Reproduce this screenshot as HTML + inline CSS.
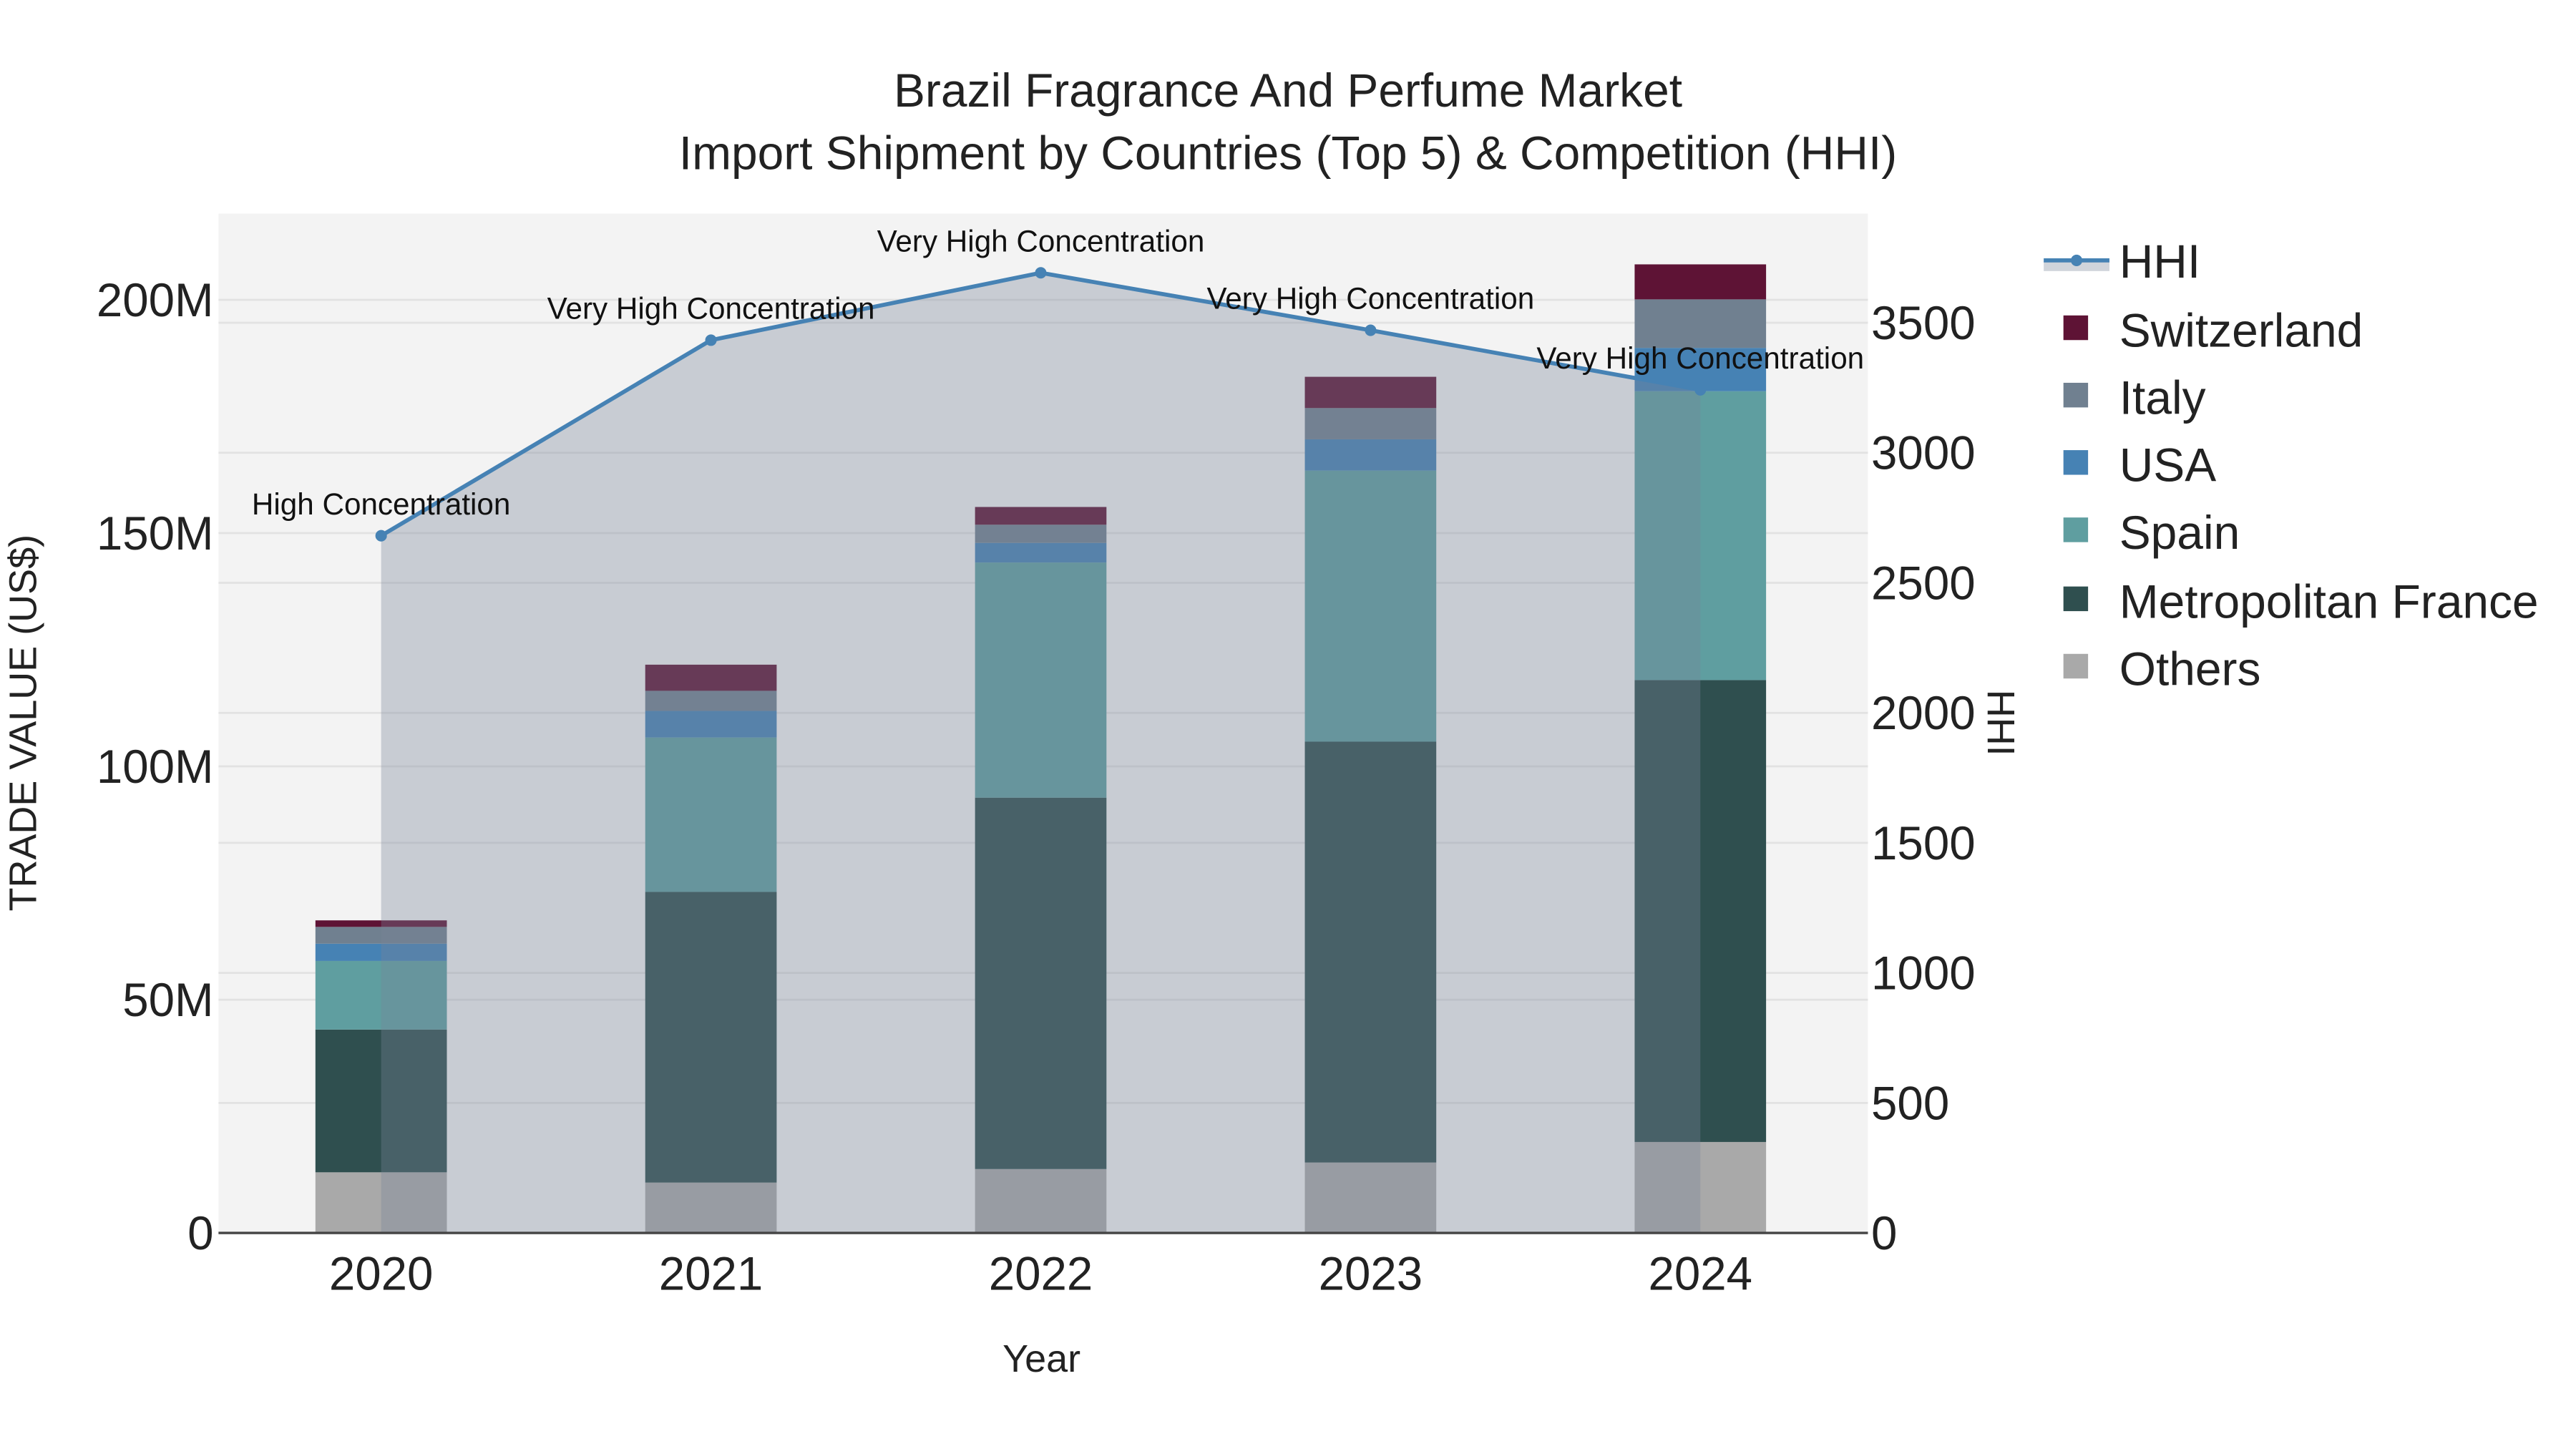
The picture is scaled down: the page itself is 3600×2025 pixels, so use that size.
<!DOCTYPE html>
<html><head><meta charset="utf-8"><style>
html,body{margin:0;padding:0;background:#fff;}
svg{display:block;font-family:"Liberation Sans",Arial,sans-serif;}
</style></head><body>
<svg id="chart" width="3600" height="2025" viewBox="0 0 1568 882" xmlns="http://www.w3.org/2000/svg">
<rect x="0" y="0" width="1568" height="882" fill="#ffffff"/>
<rect x="133" y="130" width="1004" height="621" fill="#f3f3f3"/>
<g id="grid"></g><g id="bars"></g><g id="hhi"></g><g id="axes"></g>
<text x="784" y="65" text-anchor="middle" font-size="28.7" fill="#222">Brazil Fragrance And Perfume Market</text>
<text x="784" y="103" text-anchor="middle" font-size="28.7" fill="#222">Import Shipment by Countries (Top 5) &amp; Competition (HHI)</text>
<text x="634" y="835" text-anchor="middle" font-size="23.5" fill="#222">Year</text>
<text transform="translate(22,440) rotate(-90)" text-anchor="middle" font-size="23.5" fill="#222">TRADE VALUE (US$)</text>
<text transform="translate(1210,440) rotate(90)" text-anchor="middle" font-size="23.5" fill="#222">HHI</text>
<g id="legend"></g>
</svg>
<script>
const years=["2020","2021","2022","2023","2024"];
const seriesNames=["Others","Metropolitan France","Spain","USA","Italy","Switzerland"];
const others=[13.0,10.8,13.7,15.1,19.5];
const france=[30.6,62.3,79.6,90.2,99.0];
const spain=[14.7,33.1,50.4,58.1,61.9];
const usa=[3.7,5.7,4.2,6.7,9.3];
const italy=[3.6,4.3,3.9,6.7,10.4];
const switzerland=[1.4,5.6,3.8,6.7,7.5];
const hhi=[2681,3433,3692,3471,3242];
const hhiLabels=["High Concentration","Very High Concentration","Very High Concentration","Very High Concentration","Very High Concentration"];
const yTicks=[0,50,100,150,200];
const yTickLabels=["0","50M","100M","150M","200M"];
const y2Ticks=[0,500,1000,1500,2000,2500,3000,3500];
const colors=["#a9a9a9","#2f4f4f","#5f9ea0","#4682b4","#708090","#5e1335"];
const NS="http://www.w3.org/2000/svg";
const X0=232,DX=200.75,BASE=750.5,PXM=2.84,PXH=0.1583,BW=80;
const xS=i=>X0+i*DX, yS=v=>BASE-v*PXM, y2S=v=>BASE-v*PXH;
function mk(tag,attrs,parent,txt){const e=document.createElementNS(NS,tag);for(const k in attrs)e.setAttribute(k,attrs[k]);if(txt!==undefined)e.textContent=txt;parent.appendChild(e);return e;}
const grid=document.getElementById('grid'),bars=document.getElementById('bars'),hg=document.getElementById('hhi'),ax=document.getElementById('axes'),lg=document.getElementById('legend');
yTicks.forEach((t,i)=>{
 if(t>0){const l=mk('line',{x1:133,x2:1137,y1:yS(t),y2:yS(t),stroke:"#e2e2e2","stroke-width":1.2},grid);
 }
 const tx=mk('text',{x:130,y:yS(t)+10,"text-anchor":"end","font-size":28.5,fill:"#222"},ax,yTickLabels[i]);
 
});
y2Ticks.forEach(t=>{
 if(t>0){const l=mk('line',{x1:133,x2:1137,y1:y2S(t),y2:y2S(t),stroke:"#e2e2e2","stroke-width":1.2},grid);
 }
 const tx=mk('text',{x:1139,y:y2S(t)+10,"text-anchor":"start","font-size":28.5,fill:"#222"},ax,String(t));
 
});
const series=[others,france,spain,usa,italy,switzerland];
years.forEach((yr,i)=>{
 let cum=0;
 series.forEach((s,k)=>{
  const y1=yS(cum+s[i]),y0=yS(cum);cum+=s[i];
  const r=mk('rect',{x:xS(i)-BW/2,y:y1,width:BW,height:y0-y1,fill:colors[k]},bars);
  
  
 });
 const tx=mk('text',{x:xS(i),y:785,"text-anchor":"middle","font-size":28.5,fill:"#222"},ax,yr);
 
});
let pts=hhi.map((v,i)=>xS(i)+","+y2S(v));
const area=mk('polygon',{points:xS(0)+","+BASE+" "+pts.join(" ")+" "+xS(hhi.length-1)+","+BASE,fill:"rgba(120,132,152,0.35)"},hg);

const line=mk('polyline',{points:pts.join(" "),fill:"none",stroke:"#4682b4","stroke-width":2.5},hg);

hhi.forEach((v,i)=>{
 const c=mk('circle',{cx:xS(i),cy:y2S(v),r:3.5,fill:"#4682b4"},hg);
 
 const t=mk('text',{x:xS(i),y:y2S(v)-13,"text-anchor":"middle","font-size":18.4,fill:"#111"},hg,hhiLabels[i]);
 
});
const axl=mk('line',{x1:133,x2:1137,y1:BASE,y2:BASE,stroke:"#444","stroke-width":1.5},ax);

const lgY=[159,201,242,283,324,366,407];
const lgNames=["HHI","Switzerland","Italy","USA","Spain","Metropolitan France","Others"];
const lgColors=[null,colors[5],colors[4],colors[3],colors[2],colors[1],colors[0]];
lgNames.forEach((n,i)=>{
 const g=mk('g',{},lg);
 
 
 if(i===0){mk('rect',{x:1244,y:159,width:40,height:6,fill:"rgba(120,132,152,0.35)"},g);
  mk('line',{x1:1244,x2:1284,y1:158.5,y2:158.5,stroke:"#4682b4","stroke-width":2.5},g);
  mk('circle',{cx:1264,cy:158.5,r:3.5,fill:"#4682b4"},g);}
 else mk('rect',{x:1256,y:lgY[i]-9,width:15,height:15,fill:lgColors[i]},g);
 mk('text',{x:1290,y:lgY[i]+10,"font-size":28.7,fill:"#222"},g,n);
});
</script>
</body></html>
